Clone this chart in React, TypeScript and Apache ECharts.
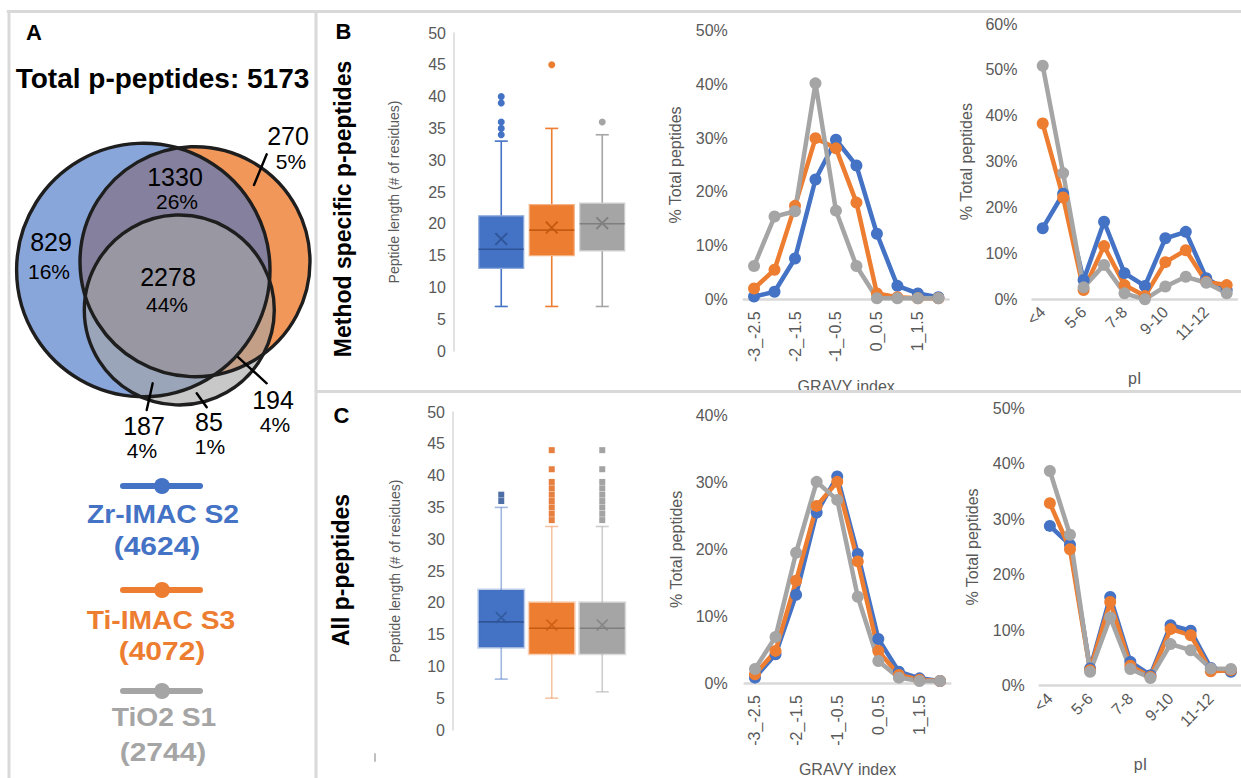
import React, { useEffect, useRef } from "react";
import * as echarts from "echarts";

const FONT = '"Liberation Sans", Arial, Helvetica, sans-serif';
const AX = "#595959";
const AXLINE = "#D9D9D9";
const FRAME = "#D9D9D9";
const COLORS = ["#4472C4", "#ED7D31", "#A5A5A5"];
const DARK = ["#2F5597", "#C55A11", "#7F7F7F"];
const LIGHT = ["#8FAADC", "#F4B183", "#CFCFCF"];

// ---- Panel A data ----
const totalTitle = "Total p-peptides: 5173";
const methodNames = ["Zr-IMAC S2", "Ti-IMAC S3", "TiO2 S1"];
const methodTotals = ["(4624)", "(4072)", "(2744)"];
const vennCounts = ["829", "1330", "270", "2278", "187", "85", "194"];
const vennPercents = ["16%", "26%", "5%", "44%", "4%", "1%", "4%"];

// ---- Box plots: [min, q1, median, q3, max] ----
const boxSpecific = [
  [7, 13, 16, 21.25, 33],
  [7, 15, 19, 23, 35],
  [7, 15.75, 20, 23.25, 34],
];
const meanSpecific = [17.6, 19.4, 20.1];
const outSpecificZr = [34, 35, 36, 39, 40];
const outSpecificTi = [45];
const outSpecificTiO2 = [36];

const boxAll = [
  [8, 13, 17, 22, 35],
  [5, 12, 16, 20, 32],
  [6, 12, 16, 20, 32],
];
const meanAll = [17.7, 16.5, 16.5];
const outAllZr = [36, 37];
const outAllTi = [33, 34, 35, 36, 37, 38, 39, 41, 44];
const outAllTiO2 = [33, 34, 35, 36, 37, 38, 39, 41, 44];

// ---- Line charts (% of total peptides) ----
const gravyCats = ["-3_-2.5", "-2.5_-2", "-2_-1.5", "-1.5_-1", "-1_-0.5", "-0.5_0", "0_0.5", "0.5_1", "1_1.5", "1.5_2"];
const piCats = ["<4", "4-5", "5-6", "6-7", "7-8", "8-9", "9-10", "10-11", "11-12", ">12"];

const gravySpecificZr = [0.5, 1.4, 7.6, 22.3, 29.7, 24.9, 12.2, 2.5, 1.1, 0.4];
const gravySpecificTi = [2.0, 5.5, 17.4, 30.0, 28.1, 18.0, 1.1, 0.4, 0.2, 0.2];
const gravySpecificTiO2 = [6.2, 15.4, 16.4, 40.2, 16.5, 6.2, 0.2, 0.2, 0.2, 0.2];

const piSpecificZr = [15.5, 23.0, 4.2, 16.9, 5.7, 2.9, 13.3, 14.7, 4.6, 2.0];
const piSpecificTi = [38.3, 22.2, 2.0, 11.6, 3.1, 0.7, 8.1, 10.7, 3.8, 3.1];
const piSpecificTiO2 = [50.9, 27.5, 2.6, 7.5, 1.3, 0.0, 2.8, 4.9, 3.6, 1.3];

const gravyAllZr = [0.8, 4.3, 13.2, 25.5, 30.9, 19.3, 6.6, 1.7, 0.7, 0.3];
const gravyAllTi = [1.3, 4.8, 15.3, 26.5, 30.1, 18.2, 4.8, 1.2, 0.5, 0.3];
const gravyAllTiO2 = [2.1, 6.9, 19.5, 30.1, 27.4, 12.9, 3.3, 0.8, 0.3, 0.3];

const piAllZr = [28.8, 25.4, 3.1, 16.0, 4.3, 1.9, 10.9, 9.9, 3.2, 2.5];
const piAllTi = [32.9, 24.6, 2.8, 15.1, 3.6, 1.6, 10.2, 9.1, 2.6, 2.8];
const piAllTiO2 = [38.7, 27.2, 2.5, 12.3, 3.0, 1.4, 7.5, 6.4, 3.1, 3.0];

const X_MARK = "path://M1,0 L5,4 L9,0 L10,1 L6,5 L10,9 L9,10 L5,6 L1,10 L0,9 L4,5 L0,1 Z";

function boxSeries(idx: number, data: number[][], whisker: string[], edge: string[], edgeW: number) {
  return {
    type: "custom",
    xAxisIndex: idx,
    yAxisIndex: idx,
    silent: true,
    z: 2,
    data: data.map((d, i) => [i, ...d]),
    encode: { x: 0, y: [1, 2, 3, 4, 5] },
    renderItem: (params: any, api: any) => {
      const i = params.dataIndex;
      const x = api.value(0);
      const p = [1, 2, 3, 4, 5].map((k) => api.coord([x, api.value(k)]));
      const cx = p[0][0];
      const bw = api.size([1, 0])[0] * 0.89;
      const cap = bw * 0.29;
      const wc = whisker[i];
      const ln = (x1: number, y1: number, x2: number, y2: number, c: string, w: number) => ({
        type: "line",
        shape: { x1, y1, x2, y2 },
        style: { stroke: c, lineWidth: w },
      });
      return {
        type: "group",
        children: [
          ln(cx, p[4][1], cx, p[3][1], wc, 1.6),
          ln(cx, p[1][1], cx, p[0][1], wc, 1.6),
          ln(cx - cap / 2, p[4][1], cx + cap / 2, p[4][1], wc, 1.6),
          ln(cx - cap / 2, p[0][1], cx + cap / 2, p[0][1], wc, 1.6),
          {
            type: "rect",
            shape: { x: cx - bw / 2, y: p[3][1], width: bw, height: p[1][1] - p[3][1] },
            style: { fill: COLORS[i], stroke: edge[i], lineWidth: edgeW },
          },
          ln(cx - bw / 2, p[2][1], cx + bw / 2, p[2][1], DARK[i], 1.6),
        ],
      };
    },
  };
}

function pointSeries(idx: number, cat: number, vals: number[], color: string, symbol: string, size: number, opacity = 1) {
  return {
    type: "scatter",
    xAxisIndex: idx,
    yAxisIndex: idx,
    silent: true,
    z: 5,
    symbol,
    symbolSize: size,
    itemStyle: { color, opacity },
    data: vals.map((v) => [cat, v]),
  };
}

function lineSeries(idx: number, vals: number[], color: string) {
  return {
    type: "line",
    xAxisIndex: idx,
    yAxisIndex: idx,
    silent: true,
    data: vals,
    symbol: "circle",
    symbolSize: 12,
    showSymbol: true,
    lineStyle: { color, width: 4.5 },
    itemStyle: { color },
  };
}

function boxYAxis(idx: number, offset: number, nameGap: number) {
  return {
    gridIndex: idx,
    type: "value",
    min: 0,
    max: 50,
    interval: 5,
    offset,
    axisLine: { show: true, lineStyle: { color: AXLINE, width: 1.5 } },
    axisTick: { show: false },
    splitLine: { show: false },
    axisLabel: { color: AX, fontSize: 16, fontFamily: FONT, margin: 8 },
    name: "Peptide length (# of residues)",
    nameLocation: "middle",
    nameGap,
    nameTextStyle: { color: AX, fontSize: 14, fontFamily: FONT },
  };
}

function pctYAxis(idx: number, max: number, nameGap: number, margin: number) {
  return {
    gridIndex: idx,
    type: "value",
    min: 0,
    max,
    interval: 10,
    axisLine: { show: false },
    axisTick: { show: false },
    splitLine: { show: false },
    axisLabel: { color: AX, fontSize: 16, fontFamily: FONT, margin, formatter: "{value}%" },
    name: "% Total peptides",
    nameLocation: "middle",
    nameGap,
    nameTextStyle: { color: AX, fontSize: 16, fontFamily: FONT },
  };
}

function catXAxis(idx: number, data: string[], name: string, rotate: number, nameGap: number, margin: number) {
  return {
    gridIndex: idx,
    type: "category",
    data,
    axisLine: { show: true, lineStyle: { color: AXLINE, width: 2.5 } },
    axisTick: { show: false },
    splitLine: { show: false },
    axisLabel: { color: AX, fontSize: 16, fontFamily: FONT, rotate, interval: 1, margin, hideOverlap: false },
    name,
    nameLocation: "middle",
    nameGap,
    nameTextStyle: { color: AX, fontSize: 16, fontFamily: FONT },
  };
}

function txt(text: string, x: number, y: number, size: number, opts: any = {}) {
  return {
    type: "text",
    x,
    y,
    rotation: opts.rotation || 0,
    scaleX: opts.scaleX || 1,
    silent: true,
    z: 20,
    style: {
      text,
      fontSize: size,
      fontFamily: FONT,
      fontWeight: opts.bold ? "bold" : "normal",
      fill: opts.color || "#000",
      align: opts.align || "center",
      verticalAlign: "middle",
      lineHeight: opts.lineHeight || size,
    },
  };
}

function line(x1: number, y1: number, x2: number, y2: number, color: string, w: number, z = 15) {
  return { type: "line", silent: true, z, shape: { x1, y1, x2, y2 }, style: { stroke: color, lineWidth: w, lineCap: "round" } };
}

// layout positions for Venn labels (order matches vennCounts)
const vennPos = [
  [51, 242, 49, 271],
  [175, 177, 177, 201],
  [288, 136, 291, 161],
  [168, 277, 167, 304],
  [144, 426, 142, 450],
  [209, 422, 210, 446],
  [273, 400, 275, 424],
];

function buildGraphic() {
  const els: any[] = [];
  // frame
  els.push(line(8, 11.5, 1241, 11.5, FRAME, 3, 1));
  els.push(line(9, 11.5, 9, 778, FRAME, 3, 1));
  els.push(line(316, 11.5, 316, 778, FRAME, 3, 1));
  els.push(line(316, 391.5, 1241, 391.5, FRAME, 3, 1));
  els.push(line(375, 754, 375, 761, "#BFBFBF", 2, 1));

  // panel labels
  els.push(txt("A", 34, 32, 22, { bold: true }));
  els.push(txt("B", 343.5, 31, 22, { bold: true }));
  els.push(txt("C", 341.5, 415.5, 22, { bold: true }));
  els.push(txt("Method specific p-peptides", 342.5, 209, 23, { bold: true, rotation: Math.PI / 2 }));
  els.push(txt("All p-peptides", 341, 570, 23, { bold: true, rotation: Math.PI / 2 }));

  els.push(txt(totalTitle, 162.5, 78, 28, { bold: true }));

  // Venn circles
  const circles = [
    { cx: 195, cy: 261.7, r: 115, fill: "rgba(237,125,49,0.8)" },
    { cx: 143.3, cy: 270, r: 126.7, fill: "rgba(68,114,196,0.63)" },
    { cx: 179.3, cy: 310, r: 95, fill: "rgba(165,165,165,0.61)" },
  ];
  circles.forEach((c) =>
    els.push({ type: "circle", silent: true, z: 10, shape: { cx: c.cx, cy: c.cy, r: c.r }, style: { fill: c.fill } })
  );
  circles.forEach((c) =>
    els.push({
      type: "circle",
      silent: true,
      z: 11,
      shape: { cx: c.cx, cy: c.cy, r: c.r },
      style: { fill: "none", stroke: "#1E1E1E", lineWidth: 3.4 },
    })
  );
  // leader lines
  els.push(line(266.7, 154.3, 254, 185, "#000", 2.4));
  els.push(line(238.3, 357.3, 266.7, 383.3, "#000", 2.4));
  els.push(line(152.7, 383.3, 146.7, 410, "#000", 2.4));
  els.push(line(196.7, 393.3, 206.7, 407.3, "#000", 2.4));

  vennCounts.forEach((c, i) => {
    const p = vennPos[i];
    els.push(txt(c, p[0], p[1], 25, { lineHeight: 20 }));
    els.push(txt(vennPercents[i], p[2], p[3], 21, { lineHeight: 17 }));
  });

  // legend
  const legY = [486, 590, 691];
  const nameY = [514.5, 621, 718];
  const nameX = [163, 161, 164];
  const totY = [546, 651, 752.5];
  const totX = [157, 162, 163];
  methodNames.forEach((m, i) => {
    els.push(line(123, legY[i], 200, legY[i], COLORS[i], 6));
    els.push({ type: "circle", silent: true, z: 16, shape: { cx: 162, cy: legY[i], r: 8 }, style: { fill: COLORS[i] } });
    els.push(txt(m, nameX[i], nameY[i], 25, { bold: true, color: COLORS[i], scaleX: 1.13 }));
    els.push(txt(methodTotals[i], totX[i], totY[i], 25, { bold: true, color: COLORS[i], scaleX: 1.2 }));
  });
  return els;
}

export default function App() {
  const ref = useRef<HTMLDivElement>(null);
  useEffect(() => {
    if (!ref.current) return;
    const chart = echarts.init(ref.current, null, { renderer: "svg" });
    const option: any = {
      animation: false,
      backgroundColor: "#ffffff",
      textStyle: { fontFamily: FONT },
      grid: [
        { left: 476, top: 33, width: 151.5, height: 318 },
        { left: 476, top: 412, width: 151.5, height: 318 },
        { left: 743.8, top: 30.7, width: 204.8, height: 268.6 },
        { left: 1032.5, top: 24, width: 204.4, height: 275.3 },
        { left: 744.7, top: 415.7, width: 205.6, height: 270 },
        { left: 1039.8, top: 408.3, width: 204.8, height: 277.4 },
      ],
      xAxis: [
        { gridIndex: 0, type: "category", data: methodNames, show: false },
        { gridIndex: 1, type: "category", data: methodNames, show: false },
        catXAxis(2, gravyCats, "GRAVY index", 90, 79, 12),
        catXAxis(3, piCats, "pI", 45, 71, 10),
        catXAxis(4, gravyCats, "GRAVY index", 90, 78, 12),
        catXAxis(5, piCats, "pI", 45, 71, 10),
      ],
      yAxis: [
        boxYAxis(0, 22, 53),
        boxYAxis(1, 23, 51),
        pctYAxis(2, 50, 60, 16),
        pctYAxis(3, 60, 58, 15),
        pctYAxis(4, 40, 60, 17),
        pctYAxis(5, 50, 59, 15),
      ],
      series: [
        boxSeries(0, boxSpecific, COLORS, LIGHT, 1.2),
        pointSeries(0, 0, outSpecificZr, COLORS[0], "circle", 7),
        pointSeries(0, 1, outSpecificTi, COLORS[1], "circle", 7),
        pointSeries(0, 2, outSpecificTiO2, COLORS[2], "circle", 7),
        pointSeries(0, 0, [meanSpecific[0]], DARK[0], X_MARK, 13),
        pointSeries(0, 1, [meanSpecific[1]], DARK[1], X_MARK, 13),
        pointSeries(0, 2, [meanSpecific[2]], DARK[2], X_MARK, 13),

        boxSeries(
          1,
          boxAll,
          ["rgba(68,114,196,0.5)", "rgba(237,125,49,0.45)", "rgba(165,165,165,0.55)"],
          ["rgba(68,114,196,0.35)", "rgba(237,125,49,0.35)", "rgba(165,165,165,0.4)"],
          3
        ),
        pointSeries(1, 0, outAllZr, DARK[0], "rect", 6, 0.85),
        pointSeries(1, 1, outAllTi, "#E06A1E", "rect", 6, 0.85),
        pointSeries(1, 2, outAllTiO2, "#939393", "rect", 6, 0.85),
        pointSeries(1, 0, [meanAll[0]], DARK[0], X_MARK, 12, 0.8),
        pointSeries(1, 1, [meanAll[1]], DARK[1], X_MARK, 12, 0.8),
        pointSeries(1, 2, [meanAll[2]], DARK[2], X_MARK, 12, 0.8),

        lineSeries(2, gravySpecificZr, COLORS[0]),
        lineSeries(2, gravySpecificTi, COLORS[1]),
        lineSeries(2, gravySpecificTiO2, COLORS[2]),
        lineSeries(3, piSpecificZr, COLORS[0]),
        lineSeries(3, piSpecificTi, COLORS[1]),
        lineSeries(3, piSpecificTiO2, COLORS[2]),
        lineSeries(4, gravyAllZr, COLORS[0]),
        lineSeries(4, gravyAllTi, COLORS[1]),
        lineSeries(4, gravyAllTiO2, COLORS[2]),
        lineSeries(5, piAllZr, COLORS[0]),
        lineSeries(5, piAllTi, COLORS[1]),
        lineSeries(5, piAllTiO2, COLORS[2]),
      ],
      graphic: { elements: buildGraphic() },
    };
    chart.setOption(option);
    return () => chart.dispose();
  }, []);
  return (
    <div
      ref={ref}
      style={{ position: "absolute", left: 0, top: 0, width: 1241, height: 778, background: "#fff" }}
    />
  );
}
